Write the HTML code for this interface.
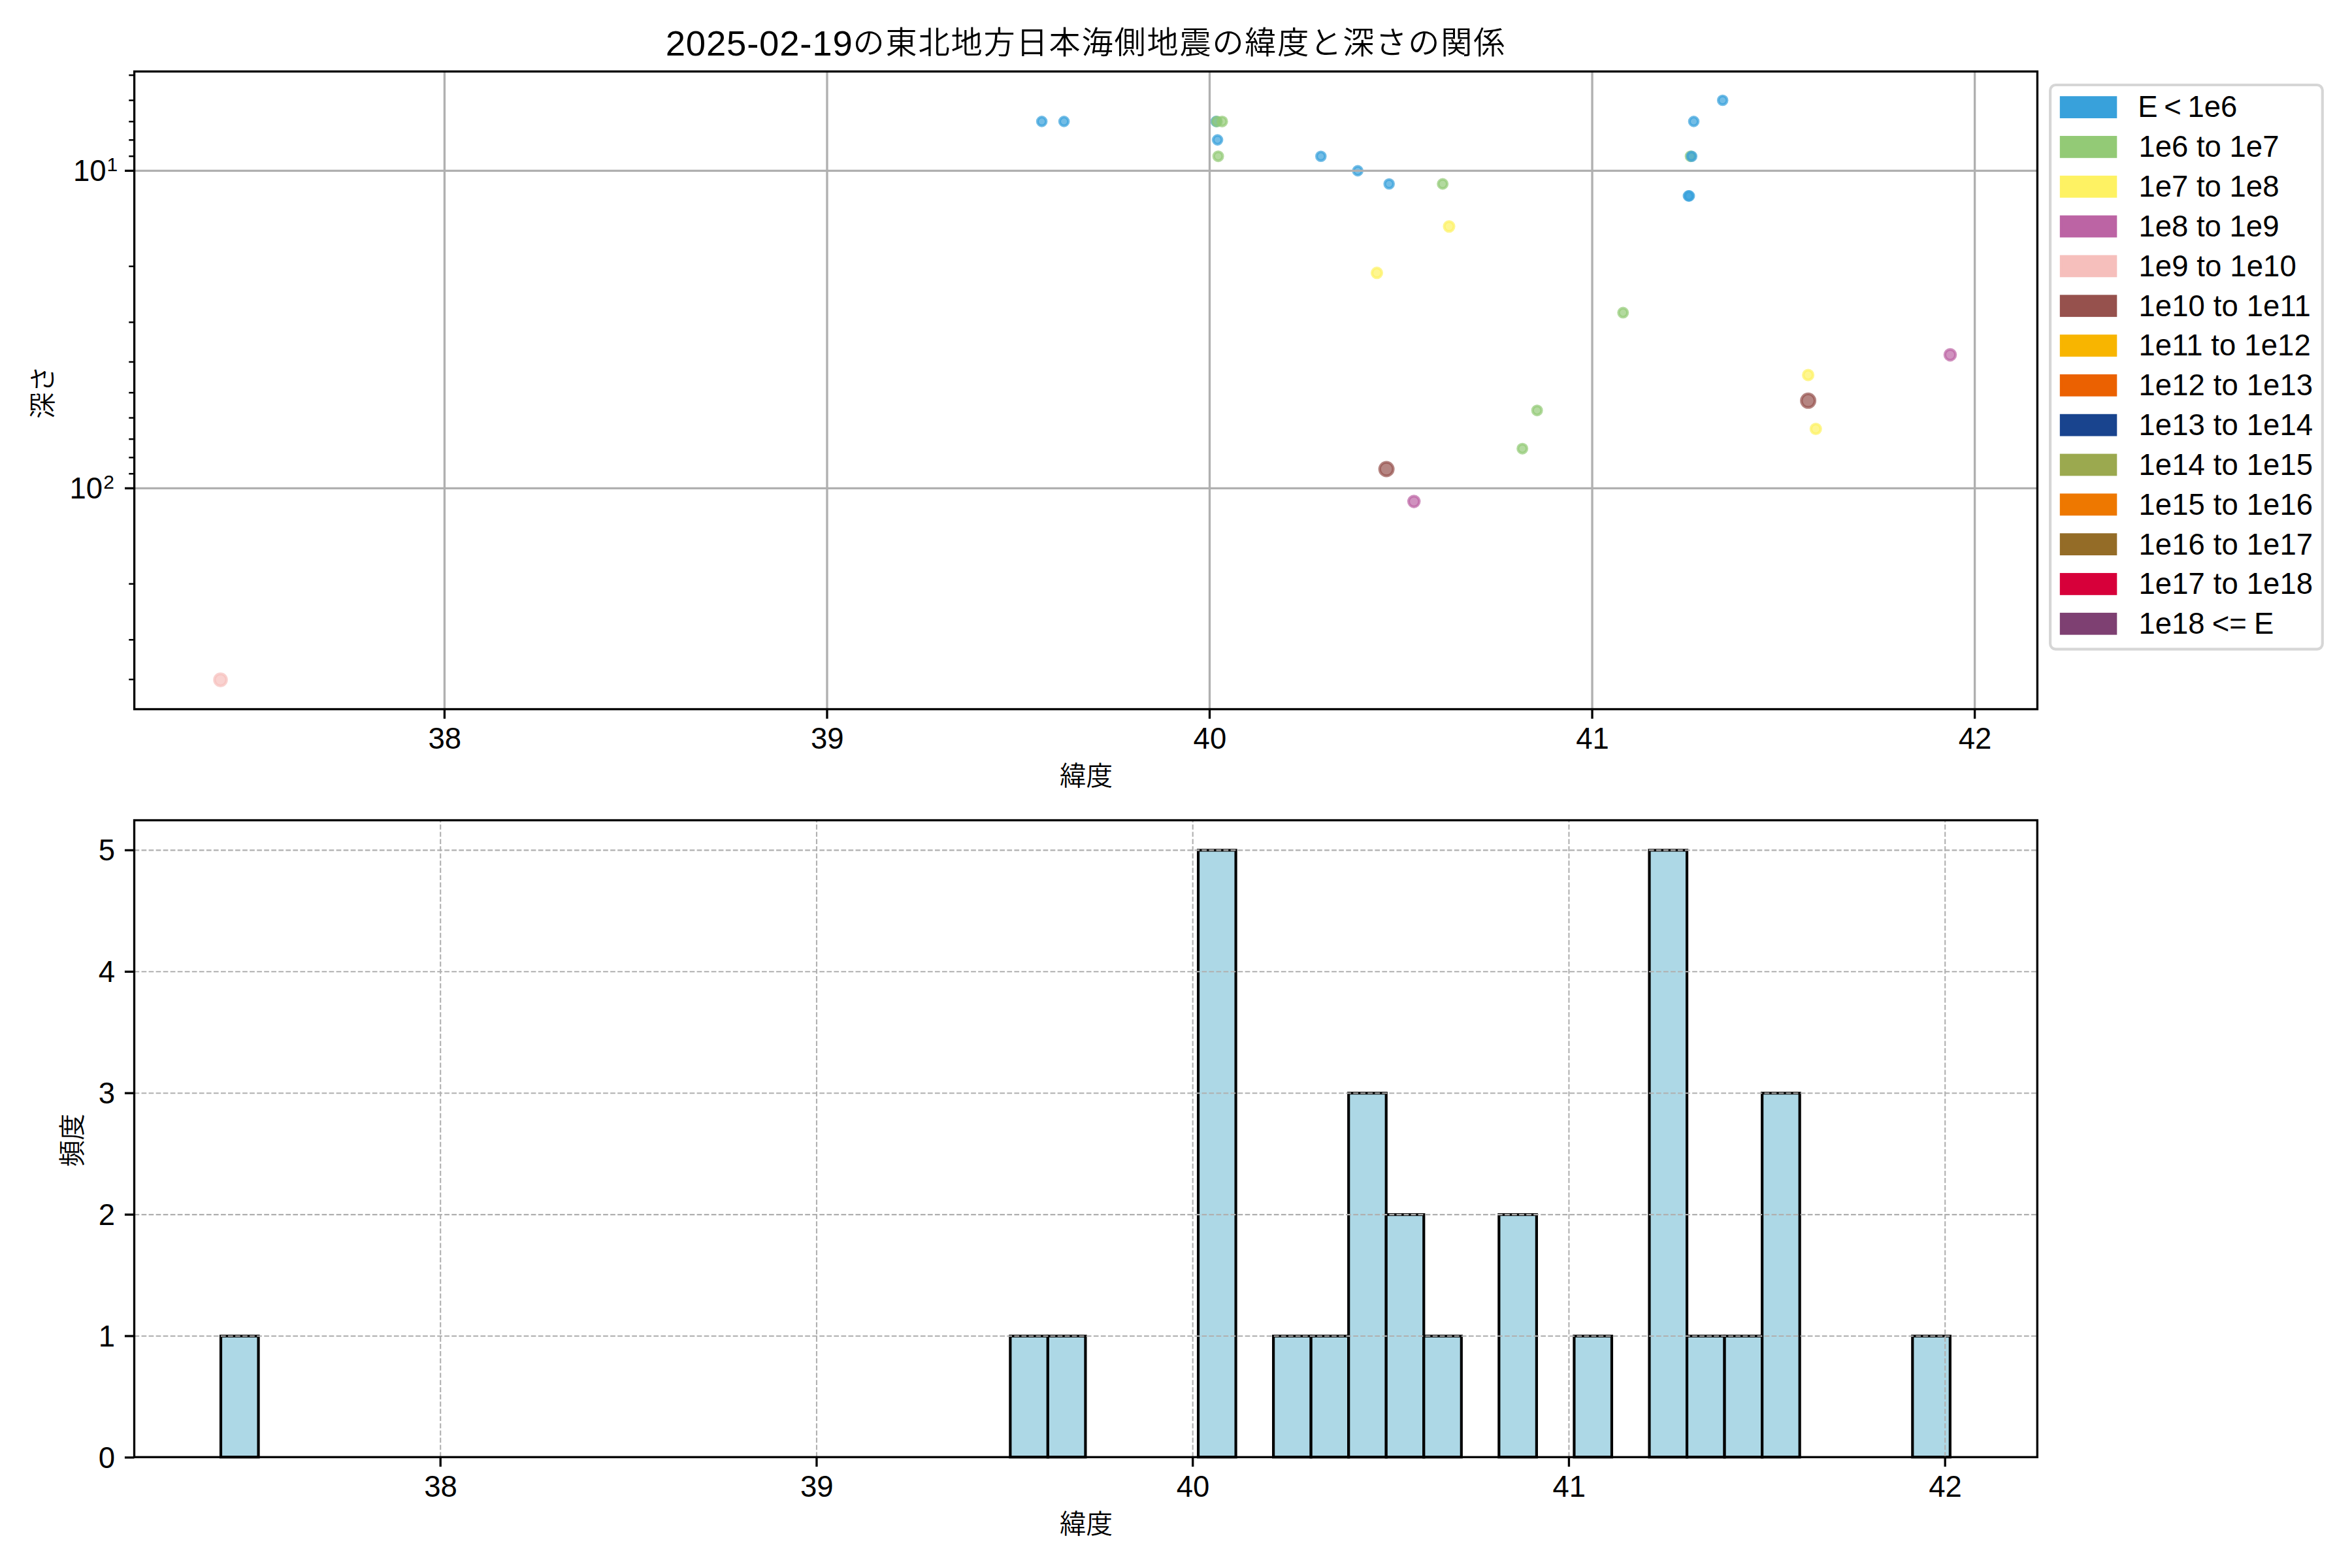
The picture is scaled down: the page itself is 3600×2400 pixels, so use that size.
<!DOCTYPE html>
<html lang="ja"><head><meta charset="utf-8"><title>2025-02-19の東北地方日本海側地震の緯度と深さの関係</title>
<style>html,body{margin:0;padding:0;background:#fff;width:3600px;height:2400px;overflow:hidden}svg{display:block}</style>
</head><body>
<svg width="3600" height="2400" viewBox="0 0 3600 2400" font-family='"Liberation Sans", sans-serif' fill="#000">
<rect width="3600" height="2400" fill="#fff"/>
<g id="ax1">
<g stroke-width="4.17" fill-opacity="0.7" stroke-opacity="0.7">
<circle cx="337.5" cy="1040.6" r="9.2" fill="#f6bfbc" stroke="#f6bfbc"/>
<circle cx="1594.6" cy="185.9" r="6.7" fill="#38a1db" stroke="#38a1db"/>
<circle cx="1628.6" cy="185.9" r="6.7" fill="#38a1db" stroke="#38a1db"/>
<circle cx="1861.4" cy="185.9" r="6.7" fill="#38a1db" stroke="#38a1db"/>
<circle cx="1862.7" cy="185.9" r="6.9" fill="#93ca76" stroke="#93ca76"/>
<circle cx="1870.7" cy="185.9" r="6.9" fill="#93ca76" stroke="#93ca76"/>
<circle cx="1863.6" cy="214.1" r="6.7" fill="#38a1db" stroke="#38a1db"/>
<circle cx="1864.6" cy="239.2" r="6.9" fill="#93ca76" stroke="#93ca76"/>
<circle cx="2021.8" cy="239.2" r="6.7" fill="#38a1db" stroke="#38a1db"/>
<circle cx="2078.2" cy="261.4" r="6.7" fill="#38a1db" stroke="#38a1db"/>
<circle cx="2126.2" cy="281.5" r="6.7" fill="#38a1db" stroke="#38a1db"/>
<circle cx="2208.2" cy="281.5" r="6.9" fill="#93ca76" stroke="#93ca76"/>
<circle cx="2218" cy="346.6" r="7.5" fill="#fef263" stroke="#fef263"/>
<circle cx="2107.5" cy="417.7" r="7.5" fill="#fef263" stroke="#fef263"/>
<circle cx="2636.7" cy="153.5" r="6.7" fill="#38a1db" stroke="#38a1db"/>
<circle cx="2592.5" cy="185.9" r="6.7" fill="#38a1db" stroke="#38a1db"/>
<circle cx="2587.6" cy="239.2" r="6.9" fill="#93ca76" stroke="#93ca76"/>
<circle cx="2589.3" cy="239.2" r="6.7" fill="#38a1db" stroke="#38a1db"/>
<circle cx="2584.3" cy="299.9" r="6.7" fill="#38a1db" stroke="#38a1db"/>
<circle cx="2585.7" cy="299.9" r="6.7" fill="#38a1db" stroke="#38a1db"/>
<circle cx="2484.3" cy="478.6" r="6.9" fill="#93ca76" stroke="#93ca76"/>
<circle cx="2985" cy="543.1" r="8.2" fill="#bc64a4" stroke="#bc64a4"/>
<circle cx="2767.6" cy="574" r="7.5" fill="#fef263" stroke="#fef263"/>
<circle cx="2767.6" cy="613.3" r="10.4" fill="#96514d" stroke="#96514d"/>
<circle cx="2779.3" cy="656.5" r="7.5" fill="#fef263" stroke="#fef263"/>
<circle cx="2352.7" cy="628.2" r="6.9" fill="#93ca76" stroke="#93ca76"/>
<circle cx="2330.2" cy="686.7" r="6.9" fill="#93ca76" stroke="#93ca76"/>
<circle cx="2122.1" cy="718" r="10.4" fill="#96514d" stroke="#96514d"/>
<circle cx="2164.2" cy="767.6" r="8.2" fill="#bc64a4" stroke="#bc64a4"/>
</g>
<g stroke="#b0b0b0" stroke-width="3.33" fill="none">
<path d="M680.4 109.4V1085.5"/>
<path d="M1265.95 109.4V1085.5"/>
<path d="M1851.5 109.4V1085.5"/>
<path d="M2437.05 109.4V1085.5"/>
<path d="M3022.6 109.4V1085.5"/>
<path d="M205.6 261.4H3118.4"/>
<path d="M205.6 747.4H3118.4"/>
</g>
<g stroke="#000" fill="none">
<g stroke-width="3.33">
<path d="M680.4 1085.5v14.6"/>
<path d="M1265.95 1085.5v14.6"/>
<path d="M1851.5 1085.5v14.6"/>
<path d="M2437.05 1085.5v14.6"/>
<path d="M3022.6 1085.5v14.6"/>
<path d="M205.6 261.4h-14.6"/>
<path d="M205.6 747.4h-14.6"/>
</g><g stroke-width="2.5">
<path d="M205.6 115.1h-8.33"/>
<path d="M205.6 153.58h-8.33"/>
<path d="M205.6 186.12h-8.33"/>
<path d="M205.6 214.3h-8.33"/>
<path d="M205.6 239.16h-8.33"/>
<path d="M205.6 407.7h-8.33"/>
<path d="M205.6 493.28h-8.33"/>
<path d="M205.6 554h-8.33"/>
<path d="M205.6 601.1h-8.33"/>
<path d="M205.6 639.58h-8.33"/>
<path d="M205.6 672.12h-8.33"/>
<path d="M205.6 700.3h-8.33"/>
<path d="M205.6 725.16h-8.33"/>
<path d="M205.6 893.7h-8.33"/>
<path d="M205.6 979.28h-8.33"/>
<path d="M205.6 1040h-8.33"/>
</g>
<rect x="205.6" y="109.4" width="2912.8" height="976.1" stroke-width="3.33"/>
</g>
<text x="680.8" y="1146.2" font-size="45.5" text-anchor="middle">38</text>
<text x="1266.35" y="1146.2" font-size="45.5" text-anchor="middle">39</text>
<text x="1851.9" y="1146.2" font-size="45.5" text-anchor="middle">40</text>
<text x="2437.45" y="1146.2" font-size="45.5" text-anchor="middle">41</text>
<text x="3023" y="1146.2" font-size="45.5" text-anchor="middle">42</text>
<text y="277.3" font-size="45.5"><tspan x="162.6" text-anchor="end">10</tspan><tspan x="163.5" dy="-15.6" font-size="30">1</tspan></text>
<text y="763.3" font-size="45.5"><tspan x="157.0" text-anchor="end">10</tspan><tspan x="158.2" dy="-15.6" font-size="30">2</tspan></text>
<text x="1662.5" y="1201.8" text-anchor="middle" font-size="40.6" letter-spacing="0" font-weight="350" font-family='"Liberation Sans", "Noto Sans CJK JP", sans-serif'>緯度</text>
<text transform="translate(80.3 600.4) rotate(-90)" text-anchor="middle" font-size="40.6" letter-spacing="0" font-weight="350" font-family='"Liberation Sans", "Noto Sans CJK JP", sans-serif'>深さ</text>
<text x="1662" y="84.6" text-anchor="middle" font-size="48.2" letter-spacing="1.8" font-weight="350" font-family='"Liberation Sans", "Noto Sans CJK JP", sans-serif'><tspan font-size="54.5" letter-spacing="0.8">2025-02-19</tspan><tspan dy="-2.5">の東北地方日本海側地震の緯度と深さの関係</tspan></text>
</g>
<g id="legend">
<rect x="3138.1" y="130" width="416.7" height="863.6" rx="8.33" ry="8.33" fill="#fff" fill-opacity="0.8" stroke="#ccc" stroke-opacity="0.8" stroke-width="4.17"/>
<rect x="3154.9" y="149.3" width="83.3" height="29.6" fill="#38a1db" stroke="#38a1db" stroke-width="4.17"/>
<text x="3272.3" y="179.4" font-size="45.5" text-anchor="start" word-spacing="-3">E &lt; 1e6</text>
<rect x="3154.9" y="210.12" width="83.3" height="29.6" fill="#93ca76" stroke="#93ca76" stroke-width="4.17"/>
<text x="3273.4" y="240.23" font-size="45.5" text-anchor="start">1e6 to 1e7</text>
<rect x="3154.9" y="270.94" width="83.3" height="29.6" fill="#fef263" stroke="#fef263" stroke-width="4.17"/>
<text x="3273.4" y="301.06" font-size="45.5" text-anchor="start">1e7 to 1e8</text>
<rect x="3154.9" y="331.76" width="83.3" height="29.6" fill="#bc64a4" stroke="#bc64a4" stroke-width="4.17"/>
<text x="3273.4" y="361.89" font-size="45.5" text-anchor="start">1e8 to 1e9</text>
<rect x="3154.9" y="392.58" width="83.3" height="29.6" fill="#f6bfbc" stroke="#f6bfbc" stroke-width="4.17"/>
<text x="3273.4" y="422.72" font-size="45.5" text-anchor="start" letter-spacing="0.1">1e9 to 1e10</text>
<rect x="3154.9" y="453.4" width="83.3" height="29.6" fill="#96514d" stroke="#96514d" stroke-width="4.17"/>
<text x="3273.4" y="483.55" font-size="45.5" text-anchor="start" letter-spacing="0.1">1e10 to 1e11</text>
<rect x="3154.9" y="514.22" width="83.3" height="29.6" fill="#f8b500" stroke="#f8b500" stroke-width="4.17"/>
<text x="3273.4" y="544.38" font-size="45.5" text-anchor="start" letter-spacing="0.1">1e11 to 1e12</text>
<rect x="3154.9" y="575.04" width="83.3" height="29.6" fill="#eb6101" stroke="#eb6101" stroke-width="4.17"/>
<text x="3273.4" y="605.21" font-size="45.5" text-anchor="start" letter-spacing="0.1">1e12 to 1e13</text>
<rect x="3154.9" y="635.86" width="83.3" height="29.6" fill="#19448e" stroke="#19448e" stroke-width="4.17"/>
<text x="3273.4" y="666.04" font-size="45.5" text-anchor="start" letter-spacing="0.1">1e13 to 1e14</text>
<rect x="3154.9" y="696.68" width="83.3" height="29.6" fill="#9ba94f" stroke="#9ba94f" stroke-width="4.17"/>
<text x="3273.4" y="726.87" font-size="45.5" text-anchor="start" letter-spacing="0.1">1e14 to 1e15</text>
<rect x="3154.9" y="757.5" width="83.3" height="29.6" fill="#ee7800" stroke="#ee7800" stroke-width="4.17"/>
<text x="3273.4" y="787.7" font-size="45.5" text-anchor="start" letter-spacing="0.1">1e15 to 1e16</text>
<rect x="3154.9" y="818.32" width="83.3" height="29.6" fill="#946c27" stroke="#946c27" stroke-width="4.17"/>
<text x="3273.4" y="848.53" font-size="45.5" text-anchor="start" letter-spacing="0.1">1e16 to 1e17</text>
<rect x="3154.9" y="879.14" width="83.3" height="29.6" fill="#d7003a" stroke="#d7003a" stroke-width="4.17"/>
<text x="3273.4" y="909.36" font-size="45.5" text-anchor="start" letter-spacing="0.1">1e17 to 1e18</text>
<rect x="3154.9" y="939.96" width="83.3" height="29.6" fill="#7e4072" stroke="#7e4072" stroke-width="4.17"/>
<text x="3273.4" y="970.19" font-size="45.5" text-anchor="start" word-spacing="-1.5">1e18 &lt;= E</text>
</g>
<g id="ax2">
<g fill="#add8e6" stroke="#000" stroke-width="4.17">
<rect x="338" y="2045" width="57.54" height="185.3"/>
<rect x="1546.34" y="2045" width="57.54" height="185.3"/>
<rect x="1603.88" y="2045" width="57.54" height="185.3"/>
<rect x="1834.04" y="1301.4" width="57.54" height="928.9"/>
<rect x="1949.12" y="2045" width="57.54" height="185.3"/>
<rect x="2006.66" y="2045" width="57.54" height="185.3"/>
<rect x="2064.2" y="1673.2" width="57.54" height="557.1"/>
<rect x="2121.74" y="1859.1" width="57.54" height="371.2"/>
<rect x="2179.28" y="2045" width="57.54" height="185.3"/>
<rect x="2294.36" y="1859.1" width="57.54" height="371.2"/>
<rect x="2409.44" y="2045" width="57.54" height="185.3"/>
<rect x="2524.52" y="1301.4" width="57.54" height="928.9"/>
<rect x="2582.06" y="2045" width="57.54" height="185.3"/>
<rect x="2639.6" y="2045" width="57.54" height="185.3"/>
<rect x="2697.14" y="1673.2" width="57.54" height="557.1"/>
<rect x="2927.3" y="2045" width="57.54" height="185.3"/>
</g>
<g stroke="#b0b0b0" stroke-width="2.08" stroke-dasharray="7.71 3.33" fill="none">
<path d="M674.2 2230.3V1255.5"/>
<path d="M1249.95 2230.3V1255.5"/>
<path d="M1825.7 2230.3V1255.5"/>
<path d="M2401.45 2230.3V1255.5"/>
<path d="M2977.2 2230.3V1255.5"/>
<path d="M205.5 2230.9H3118.3"/>
<path d="M205.5 2045H3118.3"/>
<path d="M205.5 1859.1H3118.3"/>
<path d="M205.5 1673.2H3118.3"/>
<path d="M205.5 1487.3H3118.3"/>
<path d="M205.5 1301.4H3118.3"/>
</g>
<g stroke="#000" fill="none" stroke-width="3.33">
<path d="M674.2 2230.3v14.6"/>
<path d="M1249.95 2230.3v14.6"/>
<path d="M1825.7 2230.3v14.6"/>
<path d="M2401.45 2230.3v14.6"/>
<path d="M2977.2 2230.3v14.6"/>
<path d="M205.5 2230.9h-14.6"/>
<path d="M205.5 2045h-14.6"/>
<path d="M205.5 1859.1h-14.6"/>
<path d="M205.5 1673.2h-14.6"/>
<path d="M205.5 1487.3h-14.6"/>
<path d="M205.5 1301.4h-14.6"/>
<rect x="205.5" y="1255.5" width="2912.8" height="974.8"/>
</g>
<text x="674.6" y="2291" font-size="45.5" text-anchor="middle">38</text>
<text x="1250.35" y="2291" font-size="45.5" text-anchor="middle">39</text>
<text x="1826.1" y="2291" font-size="45.5" text-anchor="middle">40</text>
<text x="2401.85" y="2291" font-size="45.5" text-anchor="middle">41</text>
<text x="2977.6" y="2291" font-size="45.5" text-anchor="middle">42</text>
<text x="176" y="2246.9" font-size="45.5" text-anchor="end">0</text>
<text x="176" y="2061" font-size="45.5" text-anchor="end">1</text>
<text x="176" y="1875.1" font-size="45.5" text-anchor="end">2</text>
<text x="176" y="1689.2" font-size="45.5" text-anchor="end">3</text>
<text x="176" y="1503.3" font-size="45.5" text-anchor="end">4</text>
<text x="176" y="1317.4" font-size="45.5" text-anchor="end">5</text>
<text x="1662.5" y="2346.9" text-anchor="middle" font-size="40.6" letter-spacing="0" font-weight="350" font-family='"Liberation Sans", "Noto Sans CJK JP", sans-serif'>緯度</text>
<text transform="translate(125.1 1745.3) rotate(-90)" text-anchor="middle" font-size="40.6" letter-spacing="0" font-weight="350" font-family='"Liberation Sans", "Noto Sans CJK JP", sans-serif'>頻度</text>
</g>
</svg>
</body></html>
